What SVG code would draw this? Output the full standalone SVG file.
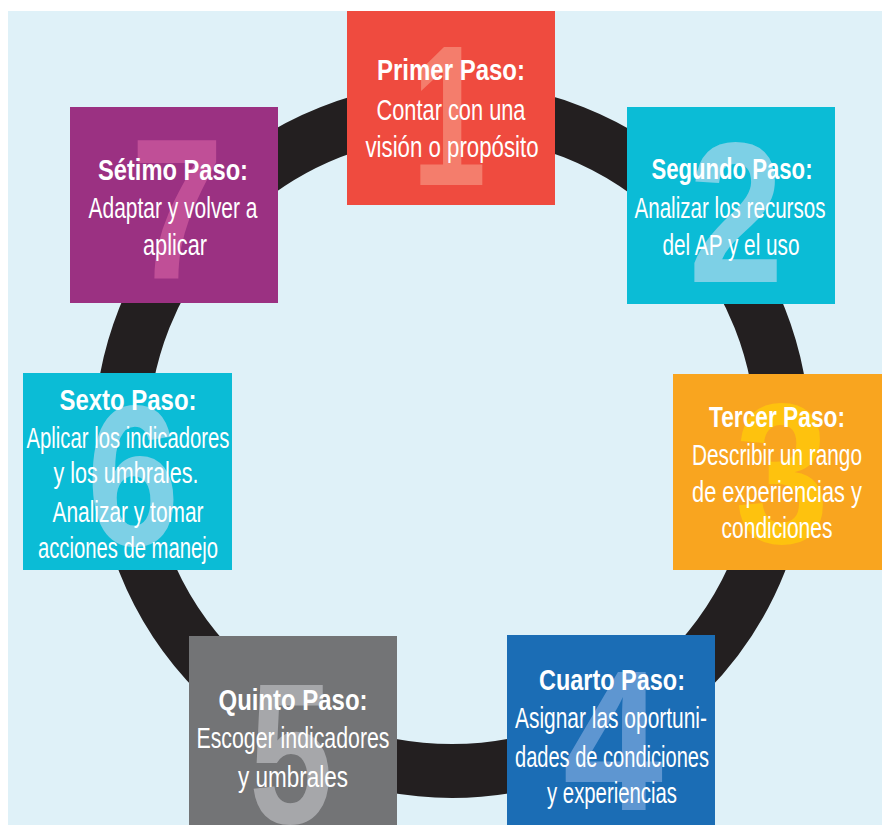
<svg xmlns="http://www.w3.org/2000/svg" width="882" height="825" viewBox="0 0 882 825">
<style>
.t{font-family:"Liberation Sans",Arial,sans-serif;font-weight:bold;font-size:29px;fill:#fff;text-anchor:middle}
.b{font-family:"Liberation Sans",Arial,sans-serif;font-size:29px;fill:#fff;text-anchor:middle}
.d{font-family:"Liberation Sans",Arial,sans-serif;font-weight:bold;font-size:200px;text-anchor:middle}
</style>
<rect x="0" y="0" width="882" height="825" fill="#ffffff"/>
<rect x="8" y="11" width="874" height="814" fill="#dff1f8"/>
<g id="connectors">
<circle cx="452" cy="440" r="331" fill="none" stroke="#231f20" stroke-width="54"/>
</g>
<g id="paso1">
<rect x="347" y="11" width="208" height="194" fill="#ef4b3f"/>
<text class="d" x="449" y="185" fill="#f47d6c" textLength="74" lengthAdjust="spacingAndGlyphs">1</text>
<text class="t" x="451" y="80" textLength="148" lengthAdjust="spacingAndGlyphs">Primer Paso:</text>
<text class="b" x="451" y="120" textLength="149" lengthAdjust="spacingAndGlyphs">Contar con una</text>
<text class="b" x="452" y="157" textLength="173" lengthAdjust="spacingAndGlyphs">visión o propósito</text>
</g>
<g id="paso2">
<rect x="627" y="107" width="208" height="197" fill="#0bbcd6"/>
<text class="d" x="736" y="282" fill="#7dd0e6" textLength="95" lengthAdjust="spacingAndGlyphs">2</text>
<text class="t" x="732" y="179" textLength="161" lengthAdjust="spacingAndGlyphs">Segundo Paso:</text>
<text class="b" x="730" y="218" textLength="191" lengthAdjust="spacingAndGlyphs">Analizar los recursos</text>
<text class="b" x="731" y="255" textLength="137" lengthAdjust="spacingAndGlyphs">del AP y el uso</text>
</g>
<g id="paso3">
<rect x="673" y="374" width="209" height="196" fill="#f9a51f"/>
<text class="d" x="782" y="543" fill="#fec20e" textLength="94" lengthAdjust="spacingAndGlyphs">3</text>
<text class="t" x="777" y="427" textLength="136" lengthAdjust="spacingAndGlyphs">Tercer Paso:</text>
<text class="b" x="777" y="465" textLength="170" lengthAdjust="spacingAndGlyphs">Describir un rango</text>
<text class="b" x="777" y="502" textLength="170" lengthAdjust="spacingAndGlyphs">de experiencias y</text>
<text class="b" x="777" y="538" textLength="111" lengthAdjust="spacingAndGlyphs">condiciones</text>
</g>
<g id="paso4">
<rect x="507" y="635" width="208" height="190" fill="#1b6db5"/>
<text class="d" x="613" y="810" fill="#5e96d1" textLength="100" lengthAdjust="spacingAndGlyphs">4</text>
<text class="t" x="612" y="690" textLength="146" lengthAdjust="spacingAndGlyphs">Cuarto Paso:</text>
<text class="b" x="611" y="728" textLength="192" lengthAdjust="spacingAndGlyphs">Asignar las oportuni-</text>
<text class="b" x="612" y="767" textLength="194" lengthAdjust="spacingAndGlyphs">dades de condiciones</text>
<text class="b" x="612" y="803" textLength="130" lengthAdjust="spacingAndGlyphs">y experiencias</text>
</g>
<g id="paso5">
<rect x="189" y="636" width="208" height="189" fill="#737476"/>
<text class="d" x="291" y="823" fill="#a6a7aa" textLength="84" lengthAdjust="spacingAndGlyphs">5</text>
<text class="t" x="293" y="710" textLength="149" lengthAdjust="spacingAndGlyphs">Quinto Paso:</text>
<text class="b" x="293" y="748" textLength="193" lengthAdjust="spacingAndGlyphs">Escoger indicadores</text>
<text class="b" x="293" y="787" textLength="110" lengthAdjust="spacingAndGlyphs">y umbrales</text>
</g>
<g id="paso6">
<rect x="23" y="373" width="209" height="197" fill="#0bbcd6"/>
<text class="d" x="133" y="545" fill="#7dd0e6" textLength="93" lengthAdjust="spacingAndGlyphs">6</text>
<text class="t" x="128" y="410" textLength="137" lengthAdjust="spacingAndGlyphs">Sexto Paso:</text>
<text class="b" x="128" y="448" textLength="203" lengthAdjust="spacingAndGlyphs">Aplicar los indicadores</text>
<text class="b" x="126" y="483" textLength="145" lengthAdjust="spacingAndGlyphs">y los umbrales.</text>
<text class="b" x="128" y="522" textLength="151" lengthAdjust="spacingAndGlyphs">Analizar y tomar</text>
<text class="b" x="128" y="558" textLength="180" lengthAdjust="spacingAndGlyphs">acciones de manejo</text>
</g>
<g id="paso7">
<rect x="70" y="107" width="208" height="196" fill="#9b3182"/>
<text class="d" x="177" y="278" fill="#c04f97" textLength="93" lengthAdjust="spacingAndGlyphs">7</text>
<text class="t" x="173" y="180" textLength="150" lengthAdjust="spacingAndGlyphs">Sétimo Paso:</text>
<text class="b" x="173" y="218" textLength="169" lengthAdjust="spacingAndGlyphs">Adaptar y volver a</text>
<text class="b" x="175" y="255" textLength="64" lengthAdjust="spacingAndGlyphs">aplicar</text>
</g>
</svg>
